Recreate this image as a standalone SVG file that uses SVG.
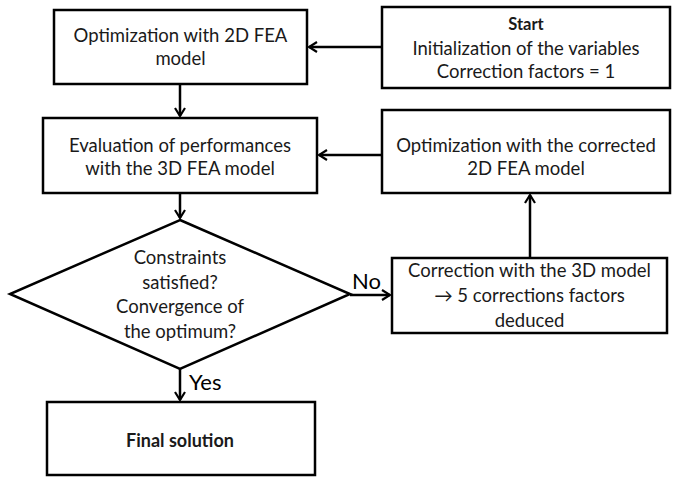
<svg xmlns="http://www.w3.org/2000/svg" width="673" height="478" viewBox="0 0 673 478">
<defs>
<style>
.box{fill:#fff;stroke:#000;stroke-width:2.5}
.t{font-family:Lato,"Liberation Sans",sans-serif;font-size:18.5px;fill:#1a1a1a;text-anchor:middle}
.b{font-weight:bold}
.c{stroke:#000;stroke-width:2.5;fill:none}
.lbl{font-family:Lato,"Liberation Sans",sans-serif;font-size:22px;fill:#000}
</style>
<marker id="ah" viewBox="0 0 12 12" refX="10" refY="6" markerWidth="12" markerHeight="12" markerUnits="userSpaceOnUse" orient="auto">
<path d="M2,1 L10,6 L2,11" fill="none" stroke="#000" stroke-width="2.2"/>
</marker>
</defs>
<rect width="673" height="478" fill="#fff"/>
<g id="connectors">
<line class="c" x1="382" y1="47" x2="309" y2="47" marker-end="url(#ah)"/>
<line class="c" x1="180" y1="84" x2="180" y2="116" marker-end="url(#ah)"/>
<line class="c" x1="382" y1="155" x2="319" y2="155" marker-end="url(#ah)"/>
<line class="c" x1="180" y1="193" x2="180" y2="218" marker-end="url(#ah)"/>
<line class="c" x1="350" y1="295" x2="390" y2="295" marker-end="url(#ah)"/>
<line class="c" x1="530" y1="258" x2="530" y2="195" marker-end="url(#ah)"/>
<line class="c" x1="180" y1="369" x2="180" y2="400" marker-end="url(#ah)"/>
<text class="lbl" x="352" y="289">No</text>
<text class="lbl" x="189" y="390">Yes</text>
</g>
<g id="opt2d">
<rect class="box" x="54" y="10" width="253" height="74"/>
<text class="t" x="180.5" y="42">Optimization with 2D FEA</text>
<text class="t" x="180.5" y="65">model</text>
</g>
<g id="start">
<rect class="box" x="382" y="7" width="288" height="81"/>
<text class="t b" x="526" y="30" style="font-size:16.5px">Start</text>
<text class="t" x="526" y="55">Initialization of the variables</text>
<text class="t" x="526" y="78">Correction factors = 1</text>
</g>
<g id="eval3d">
<rect class="box" x="43" y="118" width="274" height="75"/>
<text class="t" x="180" y="152">Evaluation of performances</text>
<text class="t" x="180" y="175">with the 3D FEA model</text>
</g>
<g id="optcorr">
<rect class="box" x="382" y="110" width="288" height="83"/>
<text class="t" x="526" y="152">Optimization with the corrected</text>
<text class="t" x="526" y="175">2D FEA model</text>
</g>
<g id="decision">
<polygon class="box" points="180,220 350,294 180,369 10,294"/>
<text class="t" x="180" y="264">Constraints</text>
<text class="t" x="180" y="289">satisfied?</text>
<text class="t" x="180" y="313">Convergence of</text>
<text class="t" x="180" y="338">the optimum?</text>
</g>
<g id="correction">
<rect class="box" x="392" y="258" width="275" height="75"/>
<text class="t" x="529.5" y="277">Correction with the 3D model</text>
<text class="t" x="529.5" y="302">→ 5 corrections factors</text>
<text class="t" x="529.5" y="327">deduced</text>
</g>
<g id="final">
<rect class="box" x="47" y="402" width="268" height="73"/>
<text class="t b" x="180" y="447" style="font-size:18px">Final solution</text>
</g>
</svg>
